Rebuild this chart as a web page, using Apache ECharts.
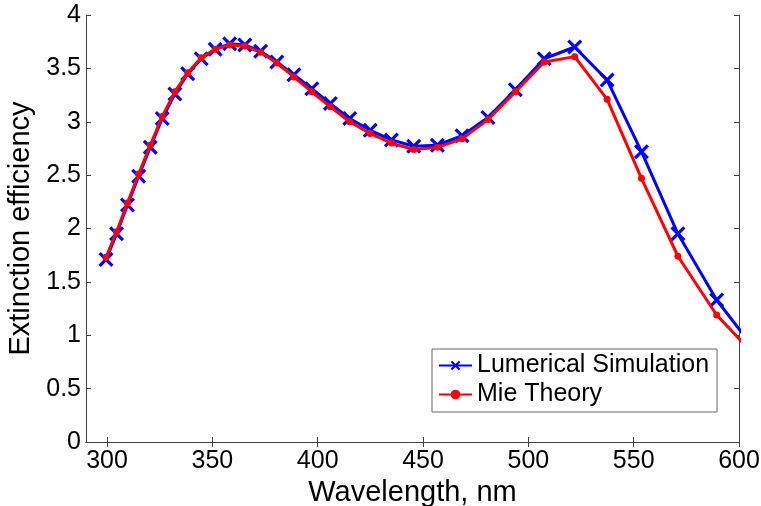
<!DOCTYPE html>
<html>
<head>
<meta charset="utf-8">
<script src="https://cdn.jsdelivr.net/npm/echarts@6/dist/echarts.min.js"></script>
<style>
    html, body { margin: 0; padding: 0; background: #fff; }
    #chart { width: 761px; height: 506px; }
</style>
</head>
<body>
<div id="chart"></div>
<script>
'use strict'

// wavelengths (nm), sampled evenly in frequency
const wavelength = [299.5, 304.5, 309.7, 315.0, 320.5, 326.2, 332.2, 338.3, 344.7, 351.3,
    358.2, 365.4, 372.9, 380.6, 388.7, 397.2, 406.0, 415.2, 424.9, 435.0,
    445.6, 456.8, 468.5, 480.8, 493.8, 507.5, 522.0, 537.4, 553.7, 571.0,
    589.4, 609.0]
const lumerical = [1.71, 1.95, 2.22, 2.49, 2.76, 3.03, 3.26, 3.45, 3.59, 3.68,
    3.73, 3.72, 3.66, 3.56, 3.44, 3.31, 3.17, 3.03, 2.92, 2.83,
    2.77, 2.78, 2.87, 3.04, 3.30, 3.59, 3.70, 3.39, 2.72, 1.95,
    1.33, 0.83]
const mie = [1.73, 1.97, 2.24, 2.51, 2.78, 3.05, 3.28, 3.46, 3.60, 3.68,
    3.72, 3.71, 3.65, 3.55, 3.42, 3.28, 3.14, 3.00, 2.89, 2.80,
    2.74, 2.76, 2.84, 3.02, 3.28, 3.56, 3.61, 3.21, 2.47, 1.74,
    1.19, 0.78]
const xTicks = [300, 350, 400, 450, 500, 550, 600]

const font = 'Liberation Sans, Arial, sans-serif'
const axisColor = '#444'
const crossPath = 'path://M0,1.5L1.5,0L5,3.5L8.5,0L10,1.5L6.5,5L10,8.5L8.5,10L5,6.5L1.5,10L0,8.5L3.5,5Z'

function pairs(xs, ys) {
    return xs.map((x, k) => [x, ys[k]])
}

const boxAxis = {
    axisLine: { show: true, lineStyle: { color: axisColor, width: 1 } },
    axisTick: { show: true, inside: true, length: 5, lineStyle: { color: axisColor } },
    splitLine: { show: false }
}

const option = {
    animation: false,
    textStyle: { fontFamily: font },
    grid: { left: 86, right: 22, top: 15, bottom: 64, containLabel: false, outerBoundsMode: 'none' },
    legend: {
        left: 432,
        top: 349,
        orient: 'vertical',
        padding: [4, 8, 5, 6],
        itemGap: 4,
        itemWidth: 33,
        itemHeight: 12,
        borderColor: '#666',
        borderWidth: 1,
        borderRadius: 0,
        backgroundColor: '#fff',
        textStyle: { fontSize: 25, color: '#000', fontFamily: font, padding: [0, 0, 0, 0] },
        data: ['Lumerical Simulation', 'Mie Theory']
    },
    xAxis: [
        Object.assign({
            type: 'value',
            min: 290,
            max: 600,
            name: 'Wavelength, nm',
            nameLocation: 'middle',
            nameGap: 24,
            nameTextStyle: { fontSize: 29, color: '#000', fontFamily: font },
            axisLabel: { customValues: xTicks, fontSize: 25, color: '#000', margin: 7, fontFamily: font }
        }, boxAxis, {
            axisTick: Object.assign({}, boxAxis.axisTick, { customValues: xTicks })
        }),
        Object.assign({
            type: 'value',
            position: 'top',
            min: 290,
            max: 600,
            axisLabel: { show: false }
        }, boxAxis, {
            axisTick: Object.assign({}, boxAxis.axisTick, { customValues: xTicks })
        })
    ],
    yAxis: [
        Object.assign({
            type: 'value',
            min: 0,
            max: 4,
            interval: 0.5,
            name: 'Extinction efficiency',
            nameLocation: 'middle',
            nameGap: 50,
            nameTextStyle: { fontSize: 29, color: '#000', fontFamily: font },
            axisLabel: { fontSize: 25, color: '#000', margin: 5, fontFamily: font }
        }, boxAxis),
        Object.assign({
            type: 'value',
            position: 'right',
            min: 0,
            max: 4,
            interval: 0.5,
            axisLabel: { show: false }
        }, boxAxis)
    ],
    series: [
        {
            name: 'Lumerical Simulation',
            type: 'line',
            data: pairs(wavelength, lumerical),
            clip: true,
            symbol: crossPath,
            symbolSize: 15,
            showAllSymbol: true,
            color: '#0000ff',
            lineStyle: { color: '#0000ff', width: 3 },
            itemStyle: { color: '#0000ff' },
            z: 2
        },
        {
            name: 'Mie Theory',
            type: 'line',
            data: pairs(wavelength, mie),
            clip: true,
            symbol: 'circle',
            symbolSize: 7,
            showAllSymbol: true,
            color: '#ff0000',
            lineStyle: { color: '#ff0000', width: 3 },
            itemStyle: { color: '#ff0000' },
            z: 3
        }
    ]
}

const myChart = echarts.init(document.getElementById('chart'))
myChart.setOption(option)
</script>
</body>
</html>
